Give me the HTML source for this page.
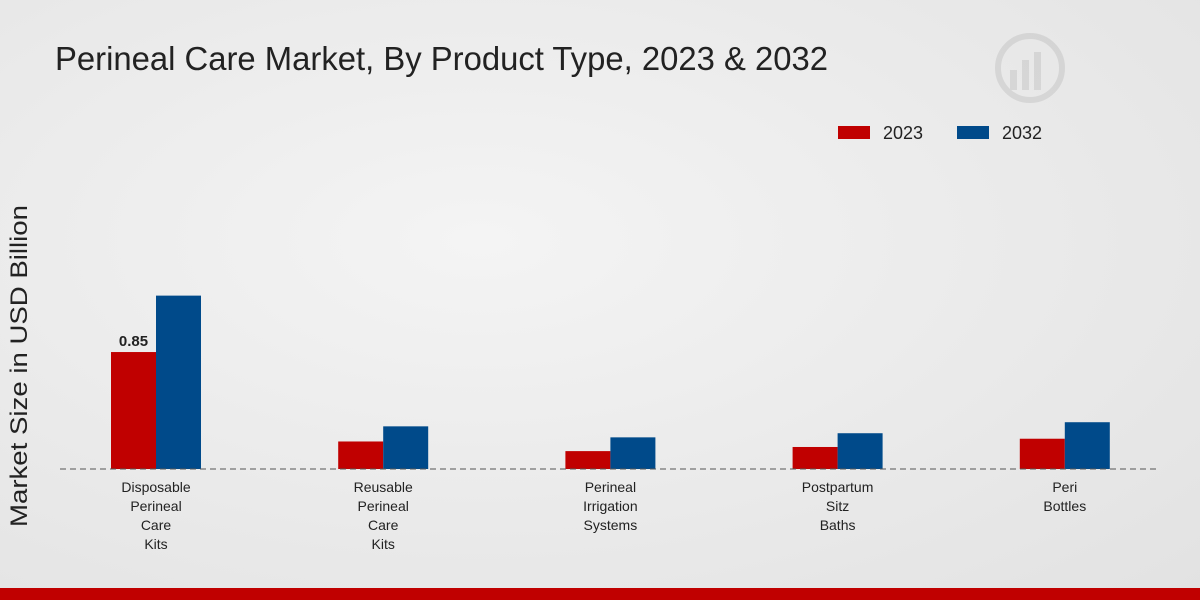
<!DOCTYPE html>
<html><head><meta charset="utf-8"><style>
html,body{margin:0;padding:0;width:1200px;height:600px;overflow:hidden}
body{background:radial-gradient(ellipse at 40% 40%,#f4f4f4 0%,#e9e9e9 60%,#e2e2e2 100%);font-family:"Liberation Sans","DejaVu Sans",sans-serif}
</style></head><body>
<svg id="chart" width="1200" height="600" xmlns="http://www.w3.org/2000/svg" style="position:absolute;left:0;top:0">
<text x="55" y="70" font-size="33" fill="#222" textLength="773" lengthAdjust="spacingAndGlyphs">Perineal Care Market, By Product Type, 2023 &amp; 2032</text>
<g opacity="0.12">
<circle cx="1030" cy="68" r="32" fill="none" stroke="#555" stroke-width="6"/>
<rect x="1010" y="70" width="7" height="20" fill="#555"/><rect x="1022" y="60" width="7" height="30" fill="#555"/><rect x="1034" y="52" width="7" height="38" fill="#555"/>
</g>
<g>
<rect x="838" y="126" width="32" height="13" fill="#c00000"/>
<text x="883" y="139" font-size="18" fill="#222">2023</text>
<rect x="957" y="126" width="32" height="13" fill="#004a8a"/>
<text x="1002" y="139" font-size="18" fill="#222">2032</text>
</g>
<text transform="translate(27,366) rotate(-90)" text-anchor="middle" font-size="24" fill="#222" textLength="322" lengthAdjust="spacingAndGlyphs">Market Size in USD Billion</text>
<g id="bars"></g>
<line x1="60" y1="469" x2="1160" y2="469" stroke="#555" stroke-dasharray="6,4" stroke-width="1"/>
<rect x="0" y="588" width="1200" height="12" fill="#c00000"/>
</svg>
<script>
const categories=[["Disposable","Perineal","Care","Kits"],["Reusable","Perineal","Care","Kits"],["Perineal","Irrigation","Systems"],["Postpartum","Sitz","Baths"],["Peri","Bottles"]];
const values2023=[0.85,0.20,0.13,0.16,0.22];
const values2032=[1.26,0.31,0.23,0.26,0.34];
const labels2023=["0.85","","","",""];
const NS="http://www.w3.org/2000/svg";
const g=document.getElementById("bars");
const base=469,scale=137.6,x0=156,step=227.2,bw=45;
const yScale=v=>base-v*scale;
const xCenter=i=>x0+i*step;
function mk(t,a){const e=document.createElementNS(NS,t);for(const k in a)e.setAttribute(k,a[k]);return e;}
categories.forEach((c,i)=>{
 const cx=xCenter(i);
 const r1=mk("rect",{x:cx-bw,y:yScale(values2023[i]),width:bw,height:base-yScale(values2023[i]),fill:"#c00000"});
 
 
 g.appendChild(r1);
 const r2=mk("rect",{x:cx,y:yScale(values2032[i]),width:bw,height:base-yScale(values2032[i]),fill:"#004a8a"});
 
 
 g.appendChild(r2);
 if(labels2023[i]){
  const t=mk("text",{x:cx-bw/2,y:yScale(values2023[i])-6,"text-anchor":"middle","font-size":"15","font-weight":"bold",fill:"#222"});
  t.textContent=labels2023[i];
  
  
  g.appendChild(t);
 }
 c.forEach((line,j)=>{
  const t=mk("text",{x:cx,y:492+j*19,"text-anchor":"middle","font-size":"14",fill:"#222"});
  t.textContent=line;
  
  
  g.appendChild(t);
 });
});
</script>
</body></html>
